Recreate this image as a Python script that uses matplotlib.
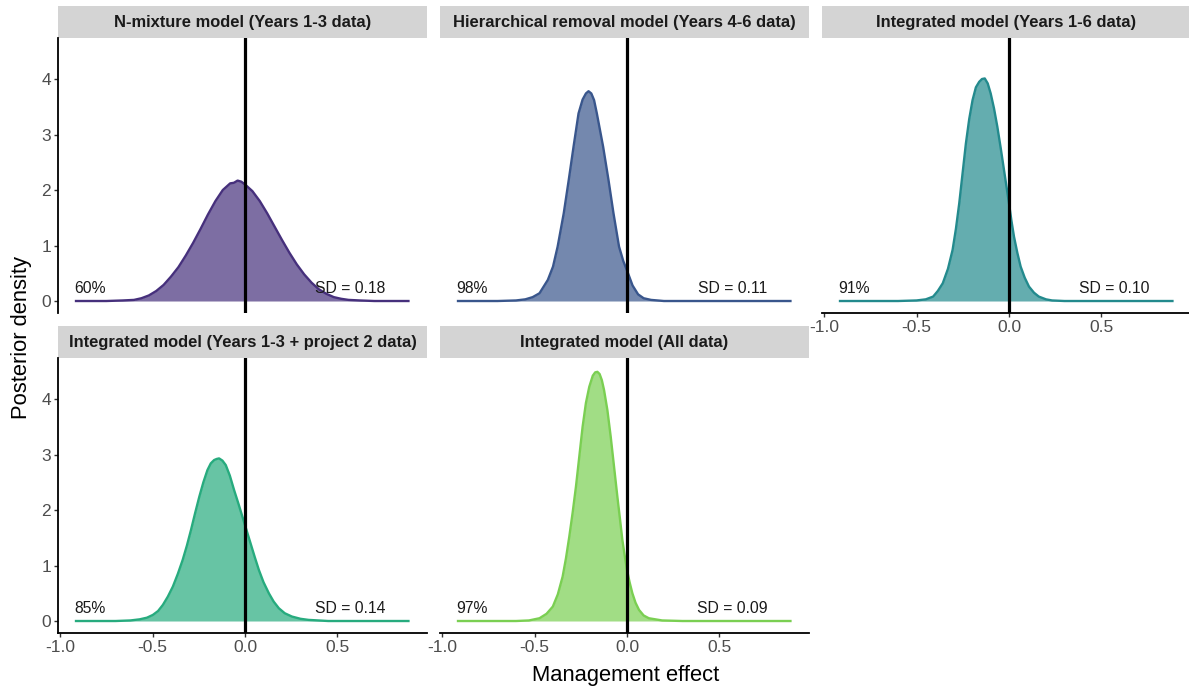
import numpy as np
import matplotlib
matplotlib.use("Agg")
import matplotlib.pyplot as plt
from matplotlib.patches import Rectangle

plt.rcParams['font.family'] = ['Liberation Sans', 'DejaVu Sans']
plt.rcParams['axes.unicode_minus'] = False

#### Panel titles and annotations
titles = ["N-mixture model (Years 1-3 data)",
          "Hierarchical removal model (Years 4-6 data)",
          "Integrated model (Years 1-6 data)",
          "Integrated model (Years 1-3 + project 2 data)",
          "Integrated model (All data)"]
pct_below = ["60%", "98%", "91%", "85%", "97%"]
sd_labels = ["SD = 0.18", "SD = 0.11", "SD = 0.10", "SD = 0.14", "SD = 0.09"]

#### Posterior density curves
nmix_x = [-0.92, -0.75, -0.66, -0.60, -0.56, -0.52, -0.48, -0.44, -0.40, -0.36,
          -0.32, -0.28, -0.24, -0.20, -0.16, -0.12, -0.08, -0.06, -0.04, -0.02,
          0.00, 0.04, 0.08, 0.12, 0.16, 0.20, 0.24, 0.28, 0.32, 0.36,
          0.40, 0.44, 0.48, 0.52, 0.56, 0.62, 0.70, 0.89]
nmix_dens = [0.0, 0.0, 0.01, 0.02, 0.05, 0.10, 0.18, 0.29, 0.44, 0.61,
             0.82, 1.05, 1.30, 1.56, 1.80, 2.00, 2.12, 2.13, 2.17, 2.15,
             2.10, 1.98, 1.80, 1.58, 1.34, 1.10, 0.87, 0.66, 0.48, 0.33,
             0.21, 0.13, 0.07, 0.04, 0.02, 0.01, 0.0, 0.0]

removal_x = [-0.92, -0.70, -0.60, -0.55, -0.51, -0.473, -0.428, -0.40, -0.375, -0.342,
             -0.315, -0.289, -0.262, -0.24, -0.222, -0.208, -0.193, -0.178, -0.163, -0.129,
             -0.10, -0.073, -0.043, -0.02, 0.0, 0.03, 0.06, 0.09, 0.13, 0.20,
             0.35, 0.89]
removal_dens = [0.0, 0.0, 0.01, 0.03, 0.07, 0.14, 0.38, 0.62, 0.98, 1.58,
                2.18, 2.78, 3.38, 3.63, 3.74, 3.78, 3.74, 3.62, 3.38, 2.78,
                2.18, 1.58, 0.98, 0.72, 0.55, 0.28, 0.12, 0.05, 0.02, 0.0,
                0.0, 0.0]

int16_x = [-0.92, -0.60, -0.50, -0.45, -0.41, -0.385, -0.358, -0.33, -0.305, -0.287,
           -0.269, -0.251, -0.233, -0.215, -0.197, -0.179, -0.161, -0.146, -0.131, -0.115,
           -0.099, -0.081, -0.063, -0.045, -0.027, -0.013, 0.0, 0.013, 0.027, 0.045,
           0.063, 0.085, 0.108, 0.135, 0.161, 0.20, 0.233, 0.30, 0.89]
int16_dens = [0.0, 0.0, 0.01, 0.03, 0.08, 0.18, 0.32, 0.58, 0.92, 1.30,
              1.76, 2.30, 2.84, 3.28, 3.62, 3.85, 3.95, 4.00, 4.01, 3.92,
              3.74, 3.47, 3.14, 2.76, 2.36, 2.05, 1.76, 1.45, 1.16, 0.87,
              0.62, 0.42, 0.26, 0.15, 0.08, 0.03, 0.01, 0.0, 0.0]

int13p2_x = [-0.92, -0.70, -0.62, -0.57, -0.53, -0.498, -0.47, -0.444, -0.417, -0.39,
             -0.363, -0.337, -0.314, -0.292, -0.27, -0.247, -0.225, -0.203, -0.185, -0.167,
             -0.153, -0.14, -0.122, -0.104, -0.082, -0.059, -0.036, -0.014, 0.008, 0.030,
             0.052, 0.075, 0.10, 0.129, 0.155, 0.183, 0.215, 0.254, 0.30, 0.344,
             0.45, 0.89]
int13p2_dens = [0.0, 0.0, 0.01, 0.03, 0.06, 0.11, 0.18, 0.29, 0.44, 0.62,
                0.85, 1.10, 1.36, 1.64, 1.94, 2.24, 2.50, 2.72, 2.84, 2.90,
                2.92, 2.93, 2.89, 2.81, 2.62, 2.36, 2.12, 1.88, 1.64, 1.40,
                1.16, 0.92, 0.70, 0.50, 0.35, 0.23, 0.14, 0.08, 0.04, 0.02,
                0.0, 0.0]

all_x = [-0.92, -0.60, -0.53, -0.473, -0.435, -0.401, -0.374, -0.348, -0.33, -0.312,
         -0.294, -0.276, -0.258, -0.240, -0.222, -0.204, -0.185, -0.172, -0.16, -0.148,
         -0.136, -0.124, -0.106, -0.088, -0.070, -0.052, -0.038, -0.025, -0.012, 0.0,
         0.014, 0.029, 0.046, 0.065, 0.09, 0.118, 0.19, 0.30, 0.89]
all_dens = [0.0, 0.0, 0.01, 0.05, 0.13, 0.26, 0.48, 0.80, 1.13, 1.52,
            1.95, 2.42, 2.96, 3.50, 3.93, 4.22, 4.42, 4.48, 4.49, 4.45,
            4.34, 4.16, 3.80, 3.32, 2.78, 2.24, 1.84, 1.46, 1.17, 0.92,
            0.70, 0.50, 0.33, 0.20, 0.10, 0.05, 0.01, 0.0, 0.0]

curves = [(nmix_x, nmix_dens), (removal_x, removal_dens), (int16_x, int16_dens),
          (int13p2_x, int13p2_dens), (all_x, all_dens)]
colors = ['#46307C', '#39568C', '#238A8D', '#27AB7E', '#7ACF52']

x_ticks = [-1.0, -0.5, 0.0, 0.5]
y_ticks = [0, 1, 2, 3, 4]

#### Figure layout (pixel geometry of the original facet grid)
W, H = 1189, 687
fig = plt.figure(figsize=(W / 100, H / 100), dpi=100)
col_left = [58, 440, 822]
row_top = [38, 358]
pw, ph = 369, 275
strip_h = 32 / ph
layout = [(0, 0), (0, 1), (0, 2), (1, 0), (1, 1)]
has_left = [True, False, False, True, False]
has_bottom = [False, False, True, True, True]

for i, (r, c) in enumerate(layout):
    ax = fig.add_axes([col_left[c] / W, 1 - (row_top[r] + ph) / H, pw / W, ph / H])
    x, d = curves[i]
    ax.fill_between(x, d, 0, color=colors[i], alpha=0.7, lw=0)
    ax.plot(x, d, color=colors[i], lw=1.7, solid_capstyle='butt')
    ax.axvline(0, color='black', lw=2.3)

    ax.text(-0.925, 0.22, pct_below[i], ha='left', va='center', fontsize=11.3, color='#1A1A1A')
    ax.text(0.57, 0.22, sd_labels[i], ha='center', va='center', fontsize=11.3, color='#1A1A1A')

    ax.set_xlim(-1.011, 0.984)
    ax.set_ylim(-0.216, 4.739)

    for s in ['top', 'right']:
        ax.spines[s].set_visible(False)
    ax.spines['left'].set_visible(has_left[i])
    ax.spines['bottom'].set_visible(has_bottom[i])
    for s in ['left', 'bottom']:
        ax.spines[s].set_linewidth(1.3)

    ax.tick_params(length=3, width=1.0, color='#333333', labelcolor='#4D4D4D',
                   labelsize=12.5, pad=2)
    if has_left[i]:
        ax.set_yticks(y_ticks)
        ax.set_yticklabels([str(v) for v in y_ticks])
    else:
        ax.set_yticks([])
    if has_bottom[i]:
        ax.set_xticks(x_ticks)
        ax.set_xticklabels(["%.1f" % v for v in x_ticks])
    else:
        ax.set_xticks([])

    # facet strip
    ax.add_patch(Rectangle((0, 1), 1, strip_h, transform=ax.transAxes,
                           clip_on=False, color='#D4D4D4', lw=0))
    ax.text(0.5, 1 + strip_h / 2, titles[i], transform=ax.transAxes, ha='center',
            va='center', fontsize=11.9, fontweight='bold', color='#1A1A1A')

fig.text(626 / W, 1 - 675 / H, "Management effect", ha='center', va='center', fontsize=15.8)
fig.text(22 / W, 1 - 337 / H, "Posterior density", ha='center', va='center',
         rotation=90, fontsize=15.8)

fig.savefig("out.png", dpi=100)
